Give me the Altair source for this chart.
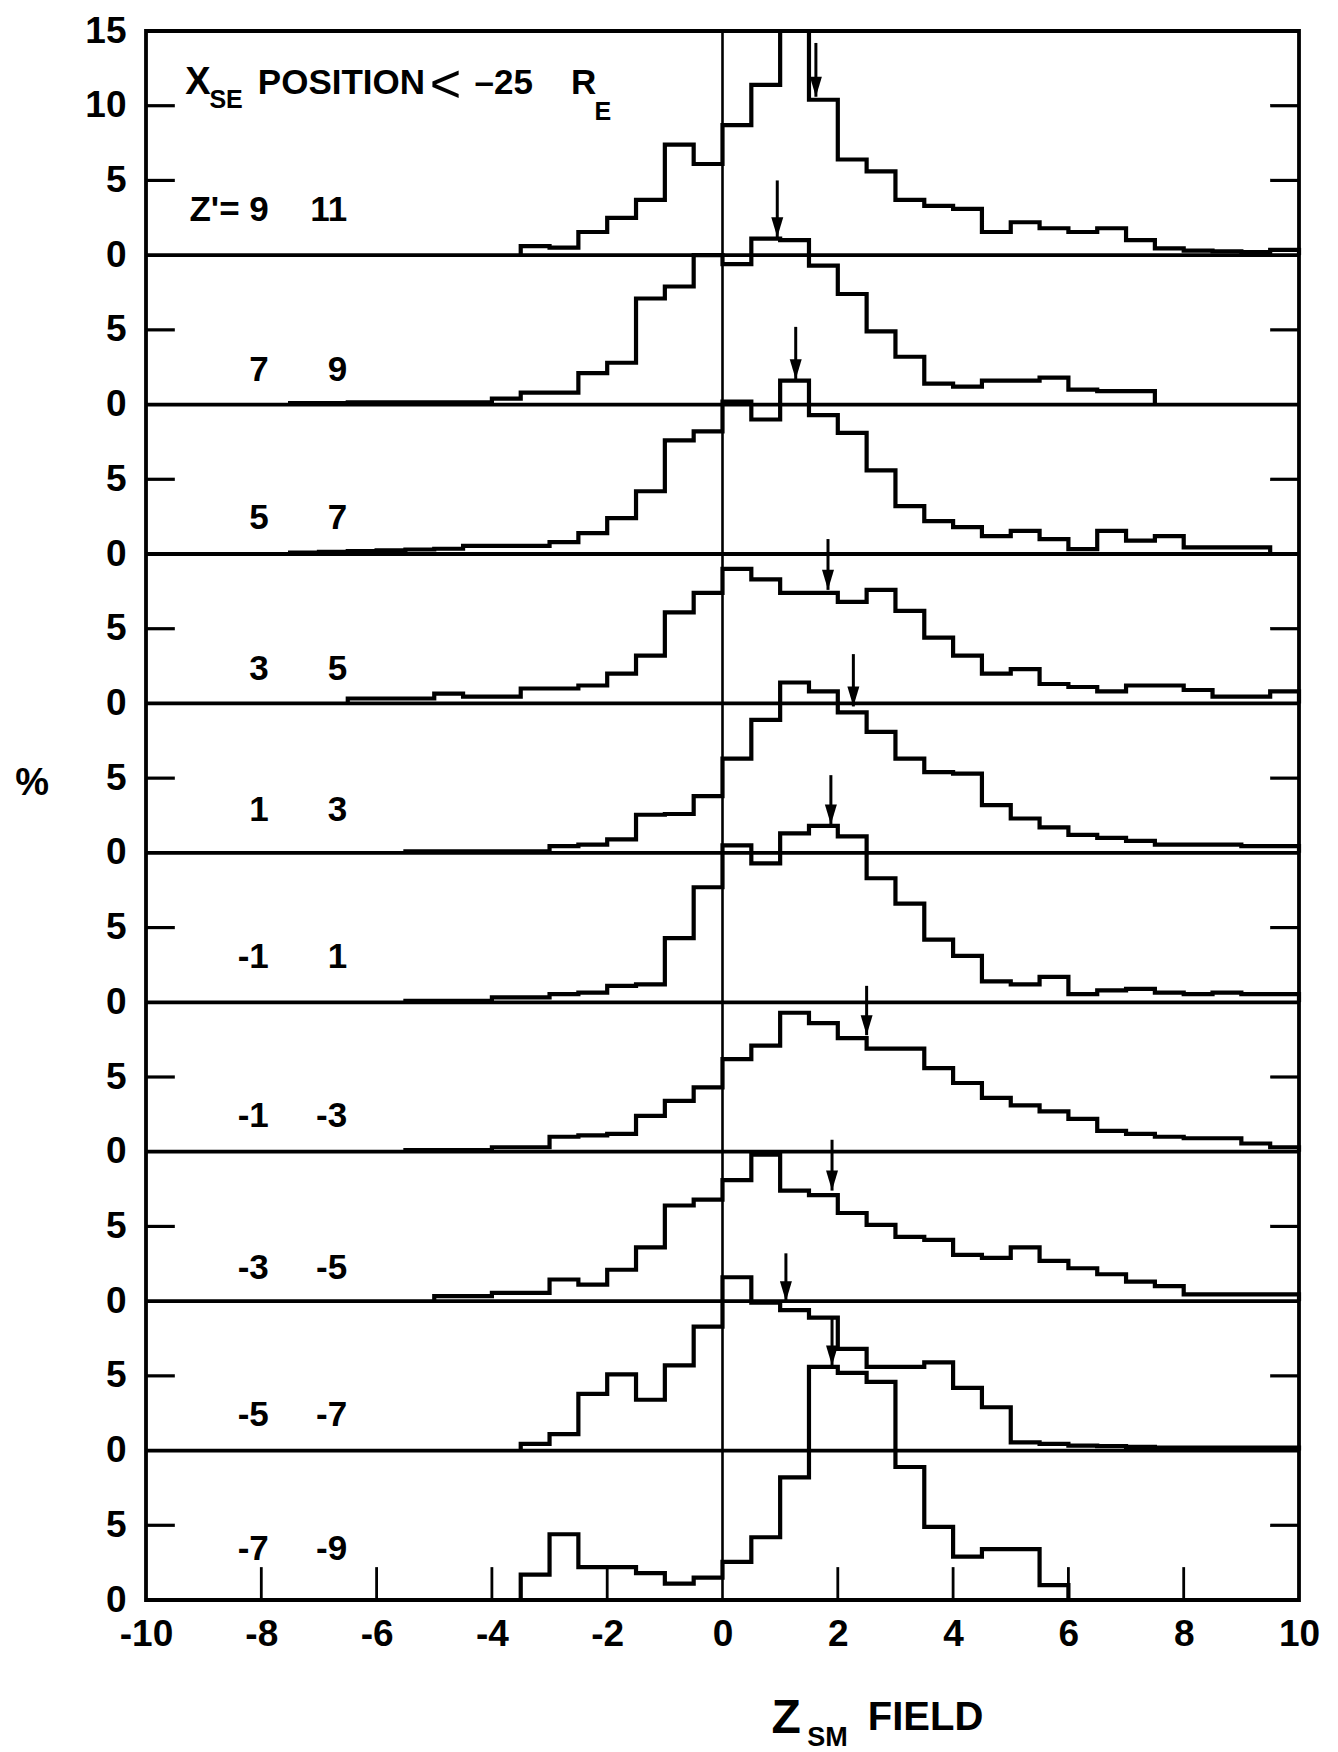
import altair as alt
import pandas as pd

# ---------------- data ----------------
BIN = 0.5
panel_lo = ["Z'= 9", "7", "5", "3", "1", "-1", "-1", "-3", "-5", "-7"]
panel_hi = ["11", "9", "7", "5", "3", "1", "-3", "-5", "-7", "-9"]
panel_base = [90, 80, 70, 60, 50, 40, 30, 20, 10, 0]
panel_start = [-3.5, -7.5, -7.5, -6.5, -5.5, -5.5, -5.5, -5.0, -3.5, -3.5]

h_9_11 = [0.6, 0.5, 1.55, 2.5, 3.7, 7.4, 6.1, 8.7, 11.4, 15.0, 10.4, 6.4, 5.6, 3.7,
          3.3, 3.1, 1.55, 2.2, 1.8, 1.55, 1.8, 1.0, 0.45, 0.3, 0.25, 0.2, 0.35]
h_7_9 = [0.1, 0.1, 0.15, 0.15, 0.15, 0.15, 0.15, 0.4, 0.8, 0.8, 2.1, 2.8, 7.1, 7.9, 10.0,
         9.4, 11.1, 11.0, 9.3, 7.4, 4.9, 3.2, 1.4, 1.2, 1.6, 1.6, 1.8, 1.0, 0.9, 0.9]
h_5_7 = [0.1, 0.15, 0.2, 0.25, 0.3, 0.35, 0.55, 0.55, 0.55, 0.8, 1.4, 2.4, 4.2, 7.6, 8.2,
         10.2, 9.0, 11.6, 9.3, 8.1, 5.6, 3.2, 2.2, 1.8, 1.2, 1.55, 1.0, 0.33, 1.55, 0.9,
         1.2, 0.45, 0.45, 0.45]
h_3_5 = [0.33, 0.33, 0.33, 0.65, 0.45, 0.45, 1.0, 1.0, 1.2, 2.0, 3.2, 6.1, 7.4,
         9.0, 8.3, 7.4, 7.4, 6.8, 7.6, 6.2, 4.4, 3.2, 2.0, 2.3, 1.3, 1.1, 0.8, 1.2, 1.2,
         0.9, 0.45, 0.45, 0.8]
h_1_3 = [0.1, 0.1, 0.1, 0.1, 0.1, 0.45, 0.55, 0.9, 2.55, 2.6, 3.8,
         6.3, 8.9, 11.4, 10.8, 9.4, 8.1, 6.3, 5.4, 5.3, 3.2, 2.3, 1.7, 1.2, 1.0, 0.8,
         0.55, 0.55, 0.55, 0.45, 0.45]
h_m1_1 = [0.1, 0.1, 0.1, 0.33, 0.33, 0.55, 0.65, 1.1, 1.2, 4.3, 7.7,
          10.5, 9.3, 11.3, 11.8, 11.1, 8.3, 6.6, 4.2, 3.1, 1.4, 1.2, 1.7, 0.55, 0.8, 0.9,
          0.65, 0.55, 0.65, 0.55, 0.55]
h_m1_m3 = [0.1, 0.1, 0.1, 0.3, 0.3, 1.0, 1.1, 1.2, 2.4, 3.4, 4.3,
           6.2, 7.1, 9.3, 8.6, 7.6, 6.9, 6.9, 5.6, 4.6, 3.6, 3.1, 2.7, 2.2, 1.4, 1.2, 1.0,
           0.9, 0.9, 0.55, 0.3]
h_m3_m5 = [0.33, 0.33, 0.55, 0.55, 1.45, 1.1, 2.1, 3.6, 6.4, 6.8,
           8.1, 9.8, 7.4, 7.1, 5.9, 5.1, 4.3, 4.1, 3.1, 2.9, 3.6, 2.7, 2.2, 1.8, 1.3, 1.0,
           0.45, 0.45, 0.45, 0.45]
h_m5_m7 = [0.45, 1.1, 3.8, 5.1, 3.4, 5.7, 8.3,
           11.6, 9.9, 9.4, 8.9, 6.8, 5.6, 5.6, 5.9, 4.2, 2.9, 0.55, 0.45, 0.33, 0.3, 0.25,
           0.2, 0.2, 0.2, 0.2, 0.2]
h_m7_m9 = [1.7, 4.4, 2.2, 2.2, 1.8, 1.1, 1.5,
           2.55, 4.2, 8.2, 15.6, 15.2, 14.6, 8.9, 4.9, 2.9, 3.4, 3.4, 1.0]
hists = [h_9_11, h_7_9, h_5_7, h_3_5, h_1_3, h_m1_1, h_m1_m3, h_m3_m5, h_m5_m7, h_m7_m9]

# median arrows (x position, top and tip in % above each panel's zero line)
arrow_x = [1.62, 0.95, 1.27, 1.83, 2.27, 1.88, 2.5, 1.9, 1.1, 1.9]
arrow_top = [14.2, 15.0, 15.2, 11.0, 13.3, 15.2, 11.1, 10.8, 13.2, 19.0]
arrow_tip = [10.6, 11.2, 11.7, 7.6, 9.8, 11.9, 7.8, 7.4, 10.0, 15.7]

label_dy = [3.0, 2.3, 2.4, 2.3, 2.9, 3.0, 2.4, 2.2, 2.4, 3.4]

x_tick_values = [-10, -8, -6, -4, -2, 0, 2, 4, 6, 8, 10]
y_tick_values = list(range(0, 106, 5))
inner_y_ticks = [5, 15, 25, 35, 45, 55, 65, 75, 85, 95, 100]
inner_x_ticks = [-8, -6, -4, -2, 2, 4, 6, 8]

# ---------------- tables ----------------
rows = []
for i, vals in enumerate(hists):
    base = panel_base[i]
    start = panel_start[i]
    edges = [start + BIN * k for k in range(len(vals) + 1)]
    pts = [(edges[0], base)]
    pts += [(edges[k], base + vals[k]) for k in range(len(vals))]
    pts += [(edges[-1], base + vals[-1]), (edges[-1], base)]
    for o, (x, y) in enumerate(pts):
        rows.append({"panel": i, "o": o, "x": x, "y": y})
hist_df = pd.DataFrame(rows)

base_df = pd.DataFrame({"yb": panel_base[:-1], "x0": -10, "x1": 10})
zero_df = pd.DataFrame({"xz": [0], "y0": [0], "y1": [105]})
ytick_df = pd.DataFrame(
    [{"yt": v, "x0": -10, "x1": -9.5} for v in inner_y_ticks]
    + [{"yt": v, "x0": 9.5, "x1": 10} for v in inner_y_ticks]
)
xtick_df = pd.DataFrame({"xt": inner_x_ticks, "y0": 0, "y1": 2.2})
arrow_df = pd.DataFrame({
    "ax": arrow_x,
    "atop": [b + t for b, t in zip(panel_base, arrow_top)],
    "atip": [b + t for b, t in zip(panel_base, arrow_tip)],
})
lab_df = pd.DataFrame({
    "lo": panel_lo, "hi": panel_hi,
    "ly": [b + d for b, d in zip(panel_base, label_dy)],
    "x_lo": -7.87, "x_hi": -6.51,
})

# ---------------- scales / axes ----------------
FONT = "Liberation Sans"
xs = alt.Scale(domain=[-10, 10], nice=False, zero=False)
ys = alt.Scale(domain=[0, 105], nice=False, zero=False)
xaxis = alt.Axis(values=x_tick_values, title="", ticks=False, domain=False, grid=False,
                 labelExpr="datum.value < 0 ? '-' + abs(datum.value) : '' + datum.value",
                 labelPadding=16, labelFlush=False, labelOverlap=False)
yaxis = alt.Axis(values=y_tick_values, title="", ticks=False, domain=False, grid=False,
                 labelExpr="'' + (datum.value > 90 ? datum.value - 90 : datum.value % 10)",
                 labelPadding=20, labelFlush=False, labelOverlap=False)


def X(f):
    return alt.X(f, type="quantitative", scale=xs, axis=xaxis)


def Y(f):
    return alt.Y(f, type="quantitative", scale=ys, axis=yaxis)


hist = alt.Chart(hist_df).mark_line(
    interpolate="step-after", color="black", strokeWidth=4.2, strokeJoin="miter"
).encode(x=X("x"), y=Y("y"), detail="panel:N", order="o:Q")

baselines = alt.Chart(base_df).mark_rule(color="black", strokeWidth=3.8).encode(
    x=X("x0"), x2="x1", y=Y("yb"))
zero_line = alt.Chart(zero_df).mark_rule(color="black", strokeWidth=2.6).encode(
    x=X("xz"), y=Y("y0"), y2="y1")
yticks = alt.Chart(ytick_df).mark_rule(color="black", strokeWidth=3.2).encode(
    x=X("x0"), x2="x1", y=Y("yt"))
xticks = alt.Chart(xtick_df).mark_rule(color="black", strokeWidth=2.8).encode(
    x=X("xt"), y=Y("y0"), y2="y1")
arrows = alt.Chart(arrow_df).mark_rule(color="black", strokeWidth=3).encode(
    x=X("ax"), y=Y("atop"), y2="atip")
heads = alt.Chart(arrow_df).mark_point(
    shape="M -0.3 -1 L 0.3 -1 L 0 0 Z", size=1600, filled=True, color="black",
    opacity=1, strokeWidth=0
).encode(x=X("ax"), y=Y("atip"))

lab_lo = alt.Chart(lab_df).mark_text(
    align="right", baseline="middle", font=FONT, fontWeight="bold", fontSize=35, color="black"
).encode(x=X("x_lo"), y=Y("ly"), text="lo:N")
lab_hi = alt.Chart(lab_df).mark_text(
    align="right", baseline="middle", font=FONT, fontWeight="bold", fontSize=35, color="black"
).encode(x=X("x_hi"), y=Y("ly"), text="hi:N")

# annotation texts (placed in data coordinates)
ann_df = pd.DataFrame([
    {"t": "X", "tx": -9.32, "ty": 101.5, "fs": 38, "fw": "bold"},
    {"t": "SE", "tx": -8.9, "ty": 100.4, "fs": 25, "fw": "bold"},
    {"t": "POSITION", "tx": -8.06, "ty": 101.5, "fs": 35, "fw": "bold"},
    {"t": "<", "tx": -5.08, "ty": 101.3, "fs": 54, "fw": "normal"},
    {"t": "–25", "tx": -4.3, "ty": 101.5, "fs": 35, "fw": "bold"},
    {"t": "R", "tx": -2.63, "ty": 101.5, "fs": 35, "fw": "bold"},
    {"t": "E", "tx": -2.22, "ty": 99.6, "fs": 25, "fw": "bold"},
    {"t": "%", "tx": -12.27, "ty": 54.6, "fs": 38, "fw": "bold"},
    {"t": "Z", "tx": 0.85, "ty": -7.95, "fs": 48, "fw": "bold"},
    {"t": "SM", "tx": 1.47, "ty": -9.25, "fs": 27, "fw": "bold"},
    {"t": "FIELD", "tx": 2.52, "ty": -7.9, "fs": 40, "fw": "bold"},
])
ann_b = alt.Chart(ann_df[ann_df.fw == "bold"]).mark_text(
    align="left", baseline="middle", font=FONT, fontWeight="bold", color="black"
).encode(x=X("tx"), y=Y("ty"), text="t:N", size=alt.Size("fs:Q", scale=None, legend=None))
ann_n = alt.Chart(ann_df[ann_df.fw == "normal"]).mark_text(
    align="left", baseline="middle", font=FONT, fontWeight="normal", color="black"
).encode(x=X("tx"), y=Y("ty"), text="t:N", size=alt.Size("fs:Q", scale=None, legend=None))

chart = alt.layer(
    baselines, zero_line, yticks, xticks, hist, arrows, heads, lab_lo, lab_hi, ann_b, ann_n
).properties(
    width=1153, height=1569,
    autosize=alt.AutoSizeParams(type="none"),
    padding={"left": 146, "top": 31, "right": 39, "bottom": 152},
    background="white",
).configure_view(
    stroke="black", strokeWidth=3.8
).configure_axis(
    labelFont=FONT, labelFontWeight="bold", labelFontSize=37, labelColor="black"
)

chart.save("out.html", embed_options={"renderer": "svg", "actions": False})
